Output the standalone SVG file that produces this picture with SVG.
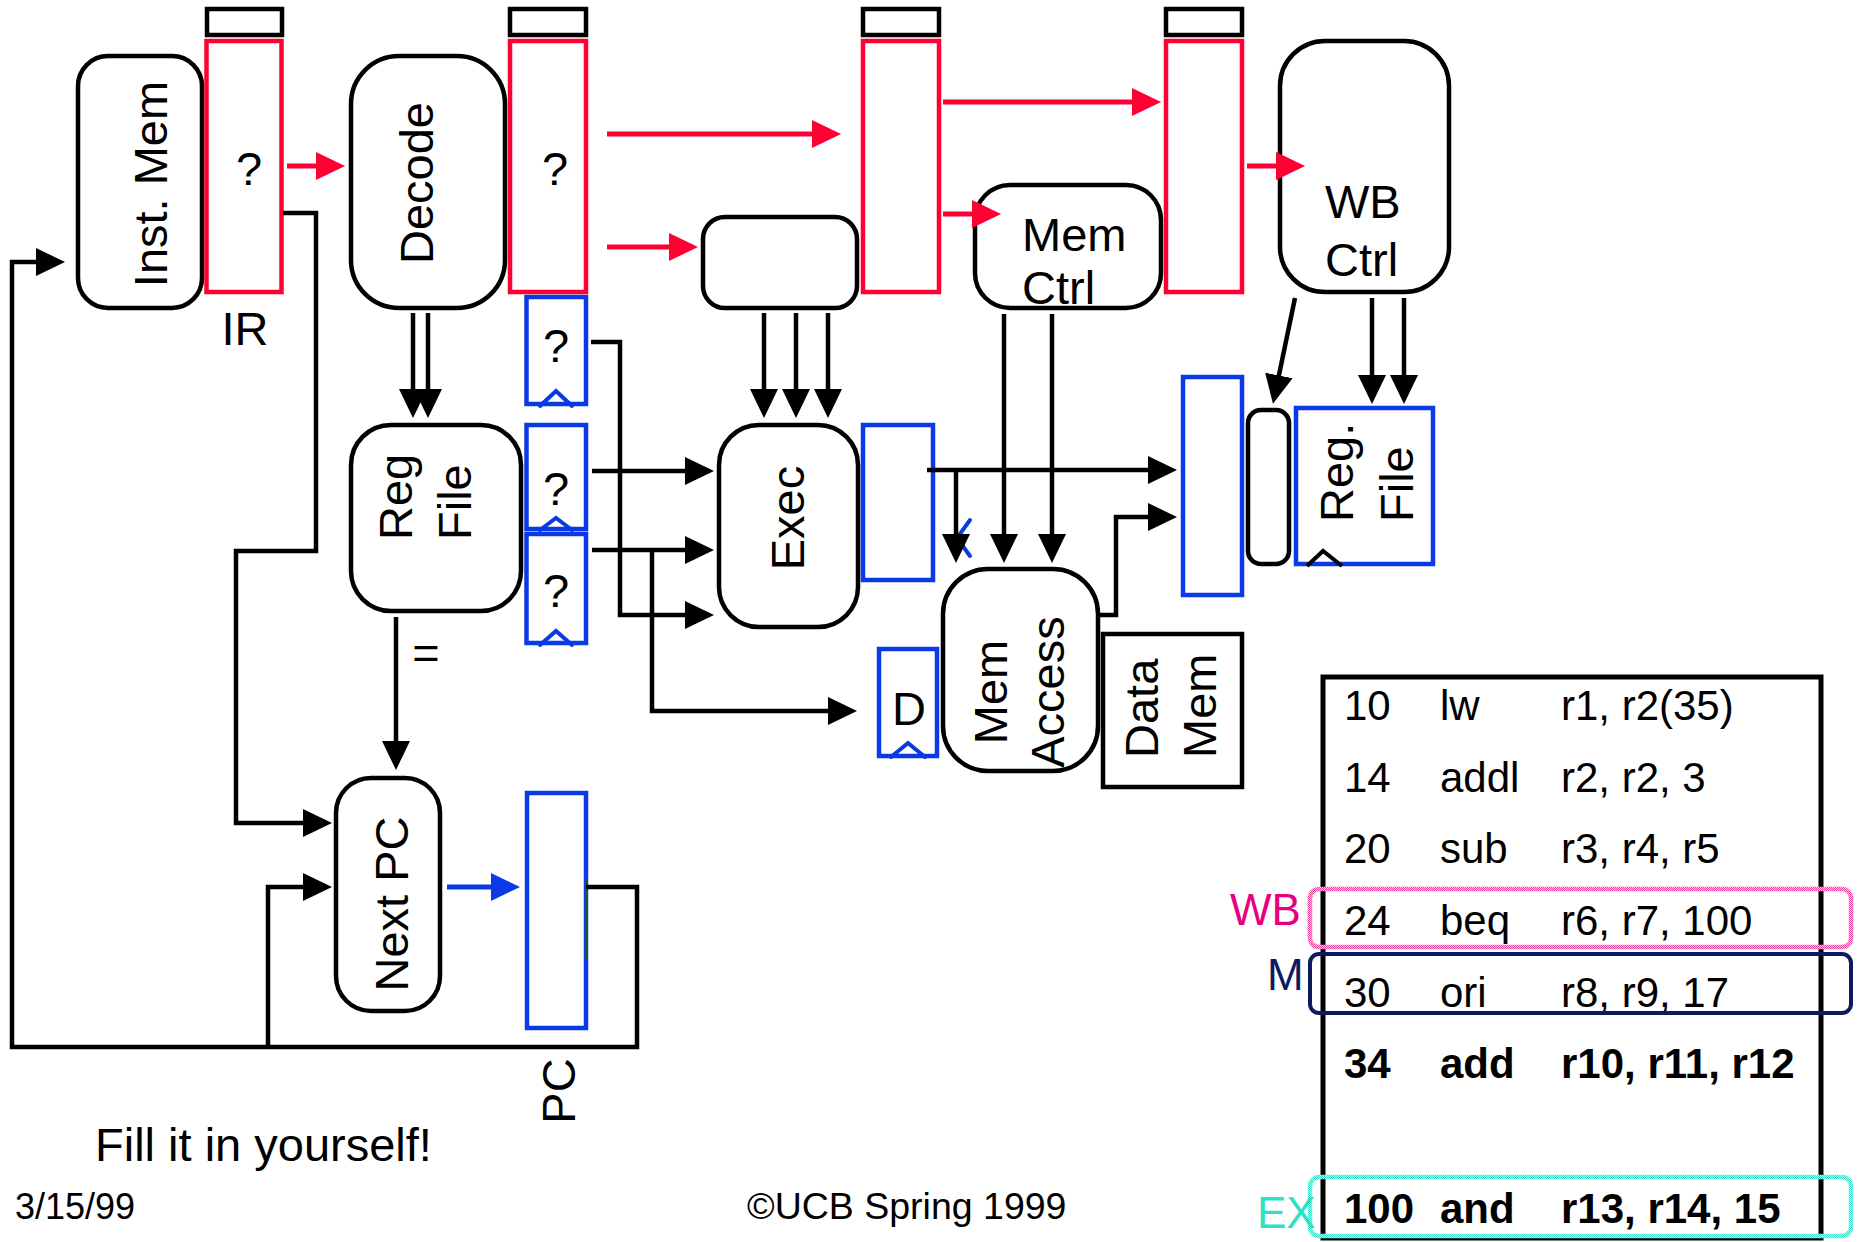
<svg xmlns="http://www.w3.org/2000/svg" width="1858" height="1242" viewBox="0 0 1858 1242">
<style>
text{font-family:"Liberation Sans",Arial,Helvetica,sans-serif;fill:#000}
.t46{font-size:47px}
.mid{text-anchor:middle}
.box{fill:#fff;stroke:#000;stroke-width:4.5}
.red{fill:none;stroke:#ff0033;stroke-width:4.5}
.blu{fill:none;stroke:#0a3ae6;stroke-width:4.5}
.blk{fill:none;stroke:#000;stroke-width:4.5}
.w{fill:none;stroke:#000;stroke-width:4.5}
.wr{fill:none;stroke:#ff0033;stroke-width:5}
.wb{fill:none;stroke:#0a3ae6;stroke-width:5}
.car{fill:none;stroke:#0a3ae6;stroke-width:4;stroke-linecap:round}
.tb{font-size:42px}
.bold{font-weight:bold}
</style>
<defs>
<marker id="ah" markerUnits="userSpaceOnUse" markerWidth="30" markerHeight="30" refX="23" refY="14" orient="auto"><path d="M0,0 L29,14 L0,28 z" fill="#000"/></marker>
<marker id="ahr" markerUnits="userSpaceOnUse" markerWidth="30" markerHeight="30" refX="23" refY="14" orient="auto"><path d="M0,0 L29,14 L0,28 z" fill="#ff0033"/></marker>
<marker id="ahb" markerUnits="userSpaceOnUse" markerWidth="30" markerHeight="30" refX="23" refY="14" orient="auto"><path d="M0,0 L29,14 L0,28 z" fill="#0a3ae6"/></marker>
<pattern id="pk" width="2" height="2" patternUnits="userSpaceOnUse"><rect width="2" height="2" fill="#fbd0e6"/><rect width="1" height="1" fill="#e8409a"/><rect x="1" y="1" width="1" height="1" fill="#e8409a"/></pattern>
<pattern id="tq" width="2" height="2" patternUnits="userSpaceOnUse"><rect width="2" height="2" fill="#c8f6ee"/><rect width="1" height="1" fill="#3ad8c4"/><rect x="1" y="1" width="1" height="1" fill="#3ad8c4"/></pattern>
</defs>

<g id="inst-mem">
<rect class="box" x="78" y="56" width="124" height="252" rx="30"/>
<text class="t46 mid" transform="translate(167,184) rotate(-90)">Inst. Mem</text>
</g>

<g id="ir">
<rect class="blk" x="207" y="9" width="75" height="26"/>
<rect class="red" x="206.5" y="41" width="75" height="251"/>
<text class="t46 mid" x="249" y="185">?</text>
<text class="t46 mid" x="245" y="345">IR</text>
</g>

<g id="decode">
<rect class="box" x="351" y="56" width="154" height="252" rx="48"/>
<text class="t46 mid" transform="translate(433,183) rotate(-90)">Decode</text>
</g>

<g id="id-ex-reg">
<rect class="blk" x="510" y="9" width="76" height="26"/>
<rect class="red" x="510" y="41" width="76" height="251"/>
<text class="t46 mid" x="555" y="185">?</text>
</g>

<g id="id-ex-a">
<rect class="blu" x="526.5" y="297" width="59.5" height="107"/>
<text class="t46 mid" x="556" y="362">?</text>
<polyline class="car" points="540,406 556,391 572,406"/>
</g>
<g id="id-ex-b">
<rect class="blu" x="526.5" y="425" width="59.5" height="104"/>
<text class="t46 mid" x="556" y="505">?</text>
<polyline class="car" points="540,530 556,518 572,530"/>
</g>
<g id="id-ex-c">
<rect class="blu" x="526.5" y="534" width="59.5" height="109"/>
<text class="t46 mid" x="556" y="607">?</text>
<polyline class="car" points="540,645 556,631 572,645"/>
</g>

<g id="ex-ctrl">
<rect class="box" x="703" y="217" width="154" height="91" rx="22"/>
</g>

<g id="ex-mem-reg">
<rect class="blk" x="863" y="9" width="76" height="26"/>
<rect class="red" x="863" y="41" width="76" height="251"/>
</g>

<g id="mem-ctrl">
<rect class="box" x="975" y="185" width="186" height="123" rx="35"/>
<text class="t46" x="1022" y="251">Mem</text>
<text class="t46" x="1022" y="304">Ctrl</text>
</g>

<g id="mem-wb-reg">
<rect class="blk" x="1166" y="9" width="76" height="26"/>
<rect class="red" x="1166" y="41" width="76" height="251"/>
</g>

<g id="wb-ctrl">
<rect class="box" x="1280" y="41" width="169" height="251" rx="45"/>
<text class="t46" x="1325" y="218">WB</text>
<text class="t46" x="1325" y="276">Ctrl</text>
</g>

<g id="reg-file">
<rect class="box" x="351" y="425" width="170" height="186" rx="40"/>
<text class="t46" transform="translate(412,540) rotate(-90)">Reg</text>
<text class="t46" transform="translate(471,540) rotate(-90)">File</text>
<text class="t46 mid" x="426" y="669">=</text>
</g>

<g id="exec">
<rect class="box" x="719" y="425" width="139" height="202" rx="40"/>
<text class="t46 mid" transform="translate(804,518) rotate(-90)">Exec</text>
</g>

<g id="ex-mem-out">
<rect class="blu" x="863" y="425" width="70" height="155"/>
</g>

<g id="d-reg">
<rect class="blu" x="879" y="649" width="58" height="107"/>
<text class="t46 mid" x="909" y="725">D</text>
<polyline class="car" points="891,757 908,743 925,757"/>
</g>

<g id="mem-access">
<rect class="box" x="943" y="569" width="155" height="202" rx="45"/>
<text class="t46 mid" transform="translate(1007,692) rotate(-90)">Mem</text>
<text class="t46 mid" transform="translate(1064,692) rotate(-90)">Access</text>
</g>

<g id="data-mem">
<rect class="blk" x="1103" y="634" width="139" height="153"/>
<text class="t46" transform="translate(1158,758) rotate(-90)">Data</text>
<text class="t46" transform="translate(1216,758) rotate(-90)">Mem</text>
</g>

<g id="mem-wb-out">
<rect class="blu" x="1183" y="377" width="59" height="218"/>
</g>

<g id="wb-mux">
<rect class="box" x="1248" y="410" width="41" height="154" rx="13"/>
</g>

<g id="reg-file-wb">
<rect class="blu" x="1296" y="408" width="137" height="156"/>
<text class="t46" transform="translate(1353,522) rotate(-90)">Reg.</text>
<text class="t46" transform="translate(1413,522) rotate(-90)">File</text>
<polyline fill="none" stroke="#000" stroke-width="4" points="1307,566 1323,551 1342,566"/>
</g>

<g id="next-pc">
<rect class="box" x="336" y="778" width="104" height="233" rx="35"/>
<text class="t46 mid" transform="translate(408,904) rotate(-90)">Next PC</text>
</g>

<g id="pc">
<rect class="blu" x="527" y="793" width="59" height="235"/>
<line x1="586" y1="879" x2="586" y2="959" stroke="#1d5a1d" stroke-width="2"/>
<text class="t46 mid" transform="translate(575,1091) rotate(-90)">PC</text>
</g>

<g id="program">
<rect fill="none" stroke="#000" stroke-width="5" x="1323" y="677" width="498" height="561"/>
<text class="tb" x="1344" y="720">10</text><text class="tb" x="1440" y="720">lw</text><text class="tb" x="1561" y="720">r1, r2(35)</text>
<text class="tb" x="1344" y="792">14</text><text class="tb" x="1440" y="792">addl</text><text class="tb" x="1561" y="792">r2, r2, 3</text>
<text class="tb" x="1344" y="863">20</text><text class="tb" x="1440" y="863">sub</text><text class="tb" x="1561" y="863">r3, r4, r5</text>
<text class="tb" x="1344" y="935">24</text><text class="tb" x="1440" y="935">beq</text><text class="tb" x="1561" y="935">r6, r7, 100</text>
<text class="tb" x="1344" y="1007">30</text><text class="tb" x="1440" y="1007">ori</text><text class="tb" x="1561" y="1007">r8, r9, 17</text>
<text class="tb bold" x="1344" y="1078">34</text><text class="tb bold" x="1440" y="1078">add</text><text class="tb bold" x="1561" y="1078">r10, r11, r12</text>
<text class="tb bold" x="1344" y="1223">100</text><text class="tb bold" x="1440" y="1223">and</text><text class="tb bold" x="1561" y="1223">r13, r14, 15</text>
</g>

<g id="stage-wb">
<rect fill="none" stroke="url(#pk)" stroke-width="4.5" x="1310" y="889" width="541" height="58" rx="9"/>
<text x="1230" y="925" style="font-size:44px;fill:#e6007e">WB</text>
</g>
<g id="stage-m">
<rect fill="none" stroke="#0d1b5e" stroke-width="4" x="1310" y="954" width="541" height="59" rx="9"/>
<text x="1267" y="990" style="font-size:44px;fill:#0d1b5e">M</text>
</g>
<g id="stage-ex">
<rect fill="none" stroke="url(#tq)" stroke-width="4.5" x="1310" y="1177" width="541" height="59" rx="9"/>
<text x="1257" y="1228" style="font-size:44px;fill:#2ee0c6">EX</text>
</g>

<g id="footer">
<text class="t46" x="95" y="1161">Fill it in yourself!</text>
<text x="15" y="1219" style="font-size:36px">3/15/99</text>
<text x="747" y="1219" style="font-size:37.5px">©UCB Spring 1999</text>
</g>

<g id="connectors">
<line class="wr" x1="287" y1="166" x2="339" y2="166" marker-end="url(#ahr)"/>
<line class="wr" x1="607" y1="134" x2="835" y2="134" marker-end="url(#ahr)"/>
<line class="wr" x1="607" y1="247" x2="692" y2="247" marker-end="url(#ahr)"/>
<line class="wr" x1="943" y1="102" x2="1155" y2="102" marker-end="url(#ahr)"/>
<line class="wr" x1="943" y1="214" x2="995" y2="214" marker-end="url(#ahr)"/>
<line class="wr" x1="1247" y1="166" x2="1299" y2="166" marker-end="url(#ahr)"/>
<polyline class="w" points="283,213 316,213 316,551 236,551 236,823 326,823" marker-end="url(#ah)"/>
<polyline class="w" points="586,887 637,887 637,1047 12,1047 12,262 59,262" marker-end="url(#ah)"/>
<polyline class="w" points="268,1047 268,887 326,887" marker-end="url(#ah)"/>
<line class="wb" x1="447" y1="887" x2="514" y2="887" marker-end="url(#ahb)"/>
<line class="w" x1="413" y1="313" x2="413" y2="412" marker-end="url(#ah)"/>
<line class="w" x1="428" y1="313" x2="428" y2="412" marker-end="url(#ah)"/>
<line class="w" x1="764" y1="313" x2="764" y2="412" marker-end="url(#ah)"/>
<line class="w" x1="796" y1="313" x2="796" y2="412" marker-end="url(#ah)"/>
<line class="w" x1="828" y1="313" x2="828" y2="412" marker-end="url(#ah)"/>
<line class="w" x1="396" y1="617" x2="396" y2="764" marker-end="url(#ah)"/>
<polyline class="w" points="591,342 620,342 620,615 708,615" marker-end="url(#ah)"/>
<line class="w" x1="592" y1="471" x2="708" y2="471" marker-end="url(#ah)"/>
<line class="w" x1="592" y1="550" x2="708" y2="550" marker-end="url(#ah)"/>
<polyline class="w" points="652,550 652,711 851,711" marker-end="url(#ah)"/>
<line class="w" x1="927" y1="470" x2="1171" y2="470" marker-end="url(#ah)"/>
<polyline class="car" points="970,520 957,538 970,556"/>
<line class="w" x1="956" y1="470" x2="956" y2="557" marker-end="url(#ah)"/>
<line class="w" x1="1004" y1="314" x2="1004" y2="557" marker-end="url(#ah)"/>
<line class="w" x1="1052" y1="314" x2="1052" y2="557" marker-end="url(#ah)"/>
<polyline class="w" points="1098,615 1116,615 1116,517 1171,517" marker-end="url(#ah)"/>
<line class="w" x1="1295" y1="298" x2="1274.2" y2="398" marker-end="url(#ah)"/>
<line class="w" x1="1372" y1="298" x2="1372" y2="398" marker-end="url(#ah)"/>
<line class="w" x1="1404" y1="298" x2="1404" y2="398" marker-end="url(#ah)"/>
</g>
</svg>
